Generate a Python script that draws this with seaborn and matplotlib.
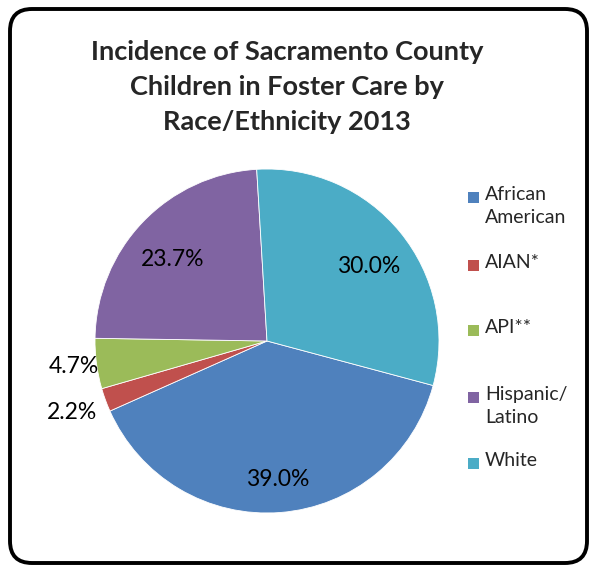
import numpy as np
import matplotlib
matplotlib.use("Agg")
import matplotlib.pyplot as plt
import matplotlib.transforms as mtransforms
from matplotlib.patches import FancyBboxPatch, Rectangle
import seaborn as sns

sns.set_theme(style="white")
plt.rcParams['font.family'] = ['Lato', 'DejaVu Sans']

categories = ["African\nAmerican", "AIAN*", "API**", "Hispanic/\nLatino", "White"]
values = [39.0, 2.2, 4.7, 23.7, 30.0]
colors = ["#4F81BD", "#C0504D", "#9BBB59", "#8064A2", "#4BACC6"]
title = "Incidence of Sacramento County\nChildren in Foster Care by\nRace/Ethnicity 2013"

W, H = 589, 567
fig = plt.figure(figsize=(W / 100, H / 100), dpi=100)

# pie axes: center (267,341), radius 172 px
cx, cy, r = 267, 341, 172
ax = fig.add_axes([(cx - r) / W, (H - cy - r) / H, 2 * r / W, 2 * r / H])
wedges, texts, autotexts = ax.pie(
    values, colors=colors, startangle=-15, counterclock=False,
    autopct=lambda p: f"{p * sum(values) / 100:.1f}%", pctdistance=0.76,
    wedgeprops=dict(linewidth=0.6, edgecolor="white"),
    textprops=dict(fontsize=16.5, color="black"))
ax.set_xlim(-1, 1)
ax.set_ylim(-1, 1)
ax.set_aspect("auto")
ax.axis("off")

for t in autotexts:
    t.set_va("center")
    x0, y0 = t.get_position()
    t.set_position((x0, y0 - 0.05))

# small slices: labels outside
outer = {1: 1.21, 2: 1.13}
for i, dist in outer.items():
    w = wedges[i]
    mid = np.deg2rad((w.theta1 + w.theta2) / 2)
    autotexts[i].set_position((dist * np.cos(mid), dist * np.sin(mid)))

fig.text(287 / W, 1 - 87 / H, title, ha="center", va="center",
         fontsize=19.5, fontweight="bold", linespacing=1.55)

# legend
rows_y = [197, 265, 330, 397, 463]
for lab, col, yy in zip(categories, colors, rows_y):
    fig.patches.append(Rectangle(((468) / W, 1 - (yy + 5.5) / H), 11 / W, 11 / H,
                                 transform=fig.transFigure, facecolor=col,
                                 edgecolor="none"))
    fig.text(485 / W, 1 - (yy - 11) / H, lab, ha="left", va="top",
             fontsize=14, linespacing=1.45)

# rounded border
border = FancyBboxPatch((10, 4), 577, 554,
                        boxstyle="round,pad=0,rounding_size=22",
                        transform=mtransforms.IdentityTransform(),
                        facecolor="none", edgecolor="black", linewidth=2.8)
fig.patches.append(border)

fig.savefig("out.png", dpi=100)
